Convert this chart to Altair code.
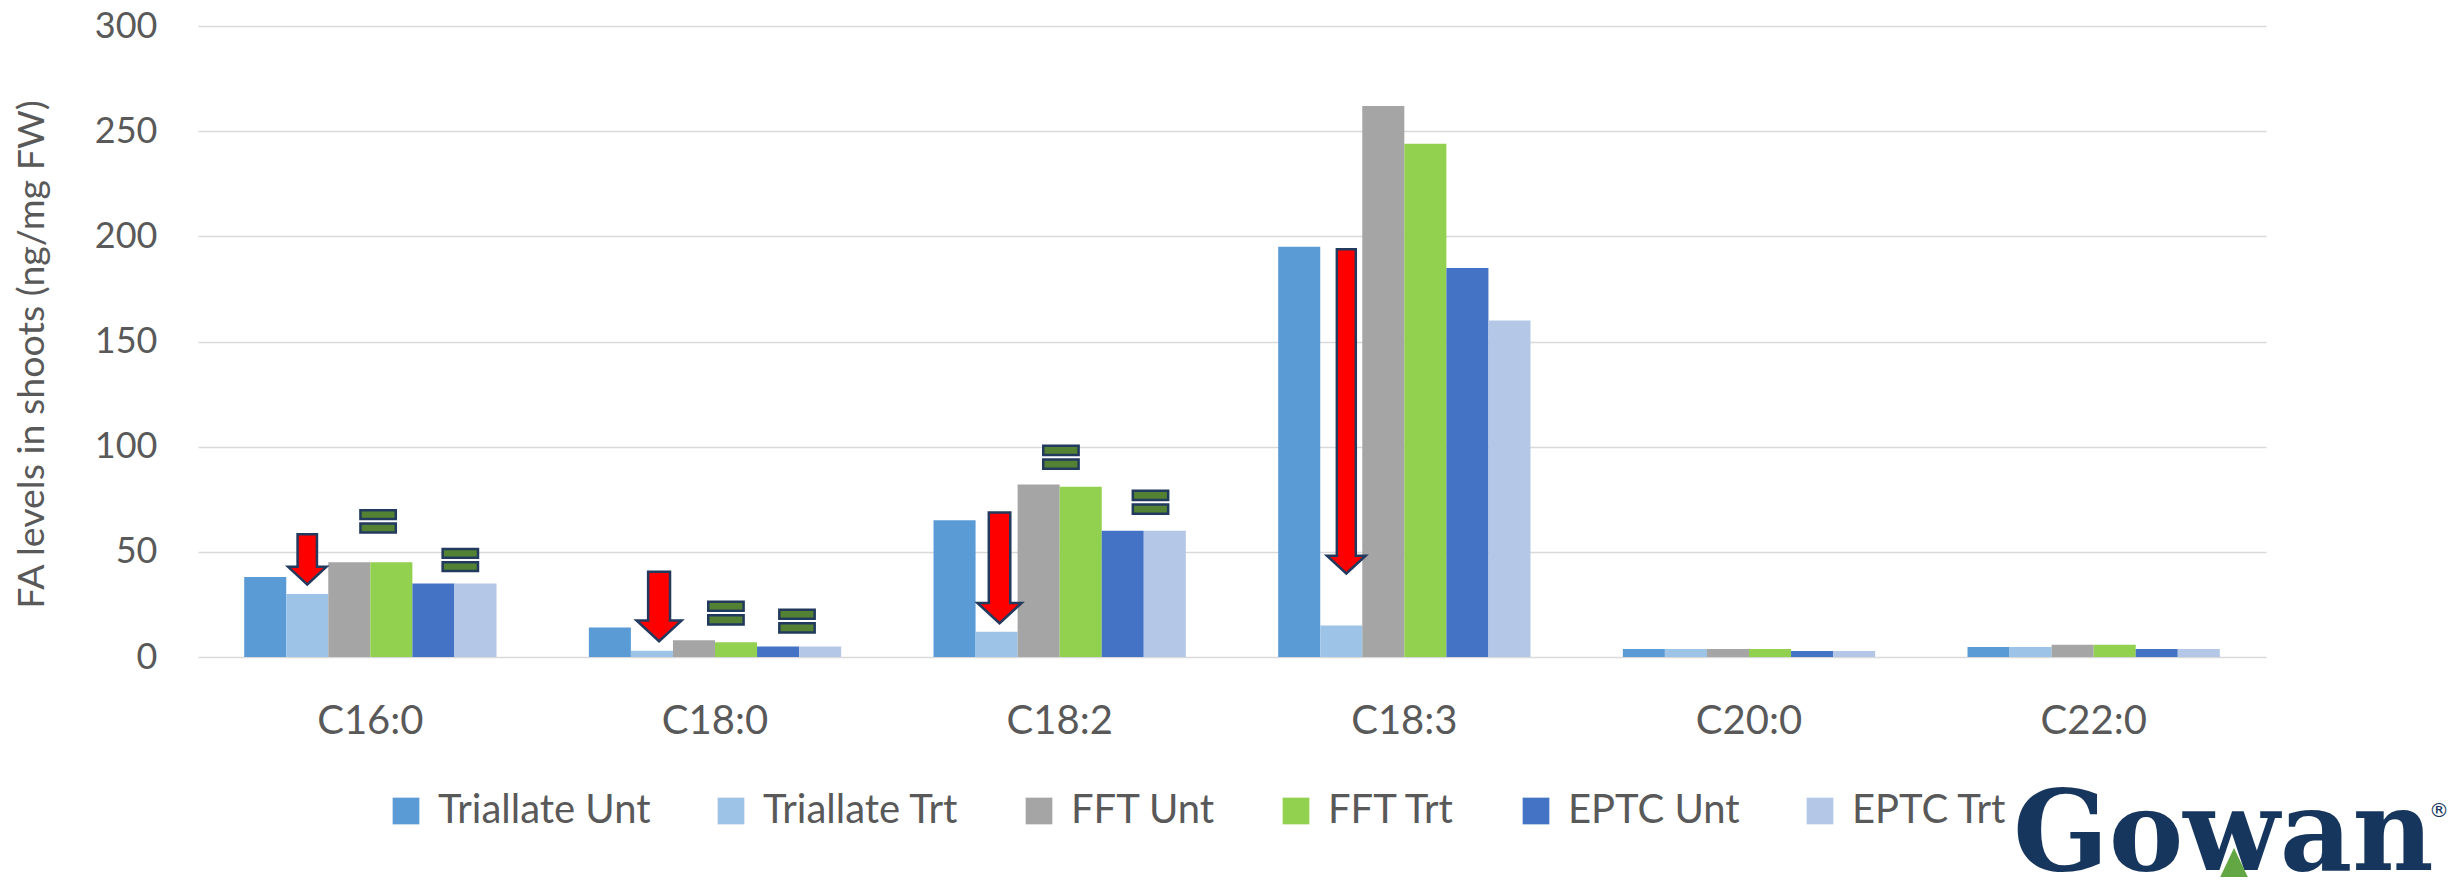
import altair as alt
import pandas as pd

# ---------------- data ----------------
categories = ["C16:0", "C18:0", "C18:2", "C18:3", "C20:0", "C22:0"]
series = ["Triallate Unt", "Triallate Trt", "FFT Unt", "FFT Trt", "EPTC Unt", "EPTC Trt"]

triallate_unt = [38, 14, 65, 195, 3.8, 4.8]
triallate_trt = [30, 3, 12, 15, 3.8, 4.8]
fft_unt = [45, 8, 82, 262, 3.8, 5.8]
fft_trt = [45, 7, 81, 244, 3.8, 5.8]
eptc_unt = [35, 5, 60, 185, 2.9, 3.8]
eptc_trt = [35, 5, 60, 160, 2.9, 3.8]

# decrease arrows (value units): top of shaft, start of head, tip
arrow_cats = ["C16:0", "C18:0", "C18:2", "C18:3"]
arrow_top = [59.0, 41.1, 69.3, 194.5]
arrow_neck = [42.9, 17.7, 26.0, 48.3]
arrow_tip = [33.6, 6.3, 14.9, 38.7]

# "no change" equals signs (value units): top and bottom
eq_cats = ["C16:0", "C16:0", "C18:0", "C18:0", "C18:2", "C18:2"]
eq_top = [70.4, 51.9, 26.9, 23.1, 101.0, 79.6]
eq_bottom = [58.6, 40.3, 14.9, 11.1, 88.9, 67.5]

y_ticks = [0, 50, 100, 150, 200, 250, 300]

# ---------------- style / layout ----------------
colors = ["#5B9BD5", "#9DC3E6", "#A5A5A5", "#92D050", "#4472C4", "#B4C7E7"]
TEXT = "#595959"
GRID = "#D9D9D9"
NAVY = "#223A5E"
RED = "#FF0000"
FONT = "Lato"
PAD_IN, PAD_OUT = 0.268, 0.134
BAR = (1 - PAD_IN) / len(series)     # one bar width in group units
W, H = 2068, 631
PX_PER_UNIT = H / 300.0
STROKE = 2.5

# annotation placement within group (in bar widths)
arrow_slot = [1.5, 1.67, 1.57, 1.62]
arrow_shaft = [0.52, 0.58, 0.57, 0.51]
arrow_head = [1.03, 1.19, 1.17, 1.04]
eq_slot = [3.185, 5.14, 3.26, 4.95, 3.03, 5.16]
eq_width = 0.9

# ---------------- tables ----------------
values = [triallate_unt, triallate_trt, fft_unt, fft_trt, eptc_unt, eptc_trt]
rows = []
for s, vals in zip(series, values):
    for c, v in zip(categories, vals):
        rows.append({"cat": c, "series": s, "value": v})
df = pd.DataFrame(rows)

bar_px = W / len(categories) * BAR
s_bar = STROKE / bar_px           # stroke in bar widths
s_val = STROKE / 2 / PX_PER_UNIT  # half stroke in value units


def gx(cat, slot):
    return categories.index(cat) + PAD_OUT + slot * BAR


shaft_rows, head_rows, cover_rows = [], [], []
for i, c in enumerate(arrow_cats):
    cx = gx(c, arrow_slot[i])
    sw = (arrow_shaft[i] - s_bar) * BAR / 2
    shaft_rows.append({"x": cx - sw, "x2": cx + sw,
                       "y": arrow_top[i] - s_val, "y2": arrow_neck[i]})
    head_px = (arrow_head[i] - 2 * s_bar) * bar_px
    head_rows.append({"x": cx, "y": (arrow_neck[i] + arrow_tip[i] + 1.4 * s_val) / 2,
                      "s": head_px ** 2})
    inner = sw - s_bar * BAR / 2 * 1.05
    cover_rows.append({"x": cx - inner, "x2": cx + inner,
                       "y": arrow_neck[i] + 2.2 * s_val, "y2": arrow_neck[i] - 2.2 * s_val})
shaft_df = pd.DataFrame(shaft_rows)
head_df = pd.DataFrame(head_rows)
cover_df = pd.DataFrame(cover_rows)

erows = []
for i, c in enumerate(eq_cats):
    cx = gx(c, eq_slot[i])
    half = (eq_width - s_bar) * BAR / 2
    Ht = eq_top[i] - eq_bottom[i]
    gap = 0.08 * Ht
    each = (Ht - gap) / 2
    for k in range(2):
        t = eq_top[i] - k * (each + gap)
        erows.append({"x": cx - half, "x2": cx + half,
                      "y": t - s_val, "y2": t - each + s_val})
eq_df = pd.DataFrame(erows)

# ---------------- chart ----------------
yscale = alt.Scale(domain=[0, 300], nice=False)
y_axis = alt.Axis(values=y_ticks, title="FA levels in shoots (ng/mg FW)",
                  labelFontSize=36, labelColor=TEXT, labelFont=FONT, labelPadding=41,
                  ticks=False, tickSize=0, domain=False,
                  grid=True, gridColor=GRID, gridWidth=1.7,
                  titleFontSize=37.5, titleFont=FONT, titleColor=TEXT,
                  titleFontWeight="normal", titleAngle=270,
                  titleBaseline="alphabetic", titleAlign="center",
                  titleX=-155, titleY=328)

bars = alt.Chart(df).mark_bar().encode(
    x=alt.X("cat:N", sort=categories,
            scale=alt.Scale(paddingInner=PAD_IN, paddingOuter=PAD_OUT),
            axis=alt.Axis(title=None, labelFontSize=40, labelColor=TEXT, labelFont=FONT,
                          labelAngle=0, labelPadding=76, labelBaseline="alphabetic",
                          ticks=False, tickSize=0, domain=False, grid=False)),
    xOffset=alt.XOffset("series:N", sort=series,
                        scale=alt.Scale(paddingInner=0, paddingOuter=0)),
    y=alt.Y("value:Q", scale=yscale, axis=y_axis),
    color=alt.Color("series:N", sort=series,
                    scale=alt.Scale(domain=series, range=colors),
                    legend=alt.Legend(title=None, orient="none", legendX=188, legendY=765,
                                      direction="horizontal", columns=6,
                                      symbolType="square", symbolSize=713,
                                      symbolStrokeWidth=0, labelFontSize=40,
                                      labelFont=FONT, labelColor=TEXT, labelOffset=12,
                                      columnPadding=60, padding=0, labelLimit=0)),
)

ax = alt.Scale(domain=[0, len(categories)], nice=False, zero=False)

shafts = alt.Chart(shaft_df).mark_rect(
    fill=RED, stroke=NAVY, strokeWidth=STROKE
).encode(
    x=alt.X("x:Q", scale=ax, axis=None), x2="x2:Q",
    y=alt.Y("y:Q", scale=yscale, axis=y_axis), y2="y2:Q",
)

heads = alt.Chart(head_df).mark_point(
    shape="M-1,-0.46L1,-0.46L0,0.46Z", filled=True, fill=RED, stroke=NAVY,
    strokeWidth=STROKE, opacity=1, strokeJoin="miter"
).encode(
    x=alt.X("x:Q", scale=ax, axis=None),
    y=alt.Y("y:Q", scale=yscale, axis=y_axis),
    size=alt.Size("s:Q", scale=None, legend=None),
)

covers = alt.Chart(cover_df).mark_rect(fill=RED, strokeWidth=0).encode(
    x=alt.X("x:Q", scale=ax, axis=None), x2="x2:Q",
    y=alt.Y("y:Q", scale=yscale, axis=y_axis), y2="y2:Q",
)

equals = alt.Chart(eq_df).mark_rect(
    fill="#548235", stroke=NAVY, strokeWidth=STROKE
).encode(
    x=alt.X("x:Q", scale=ax, axis=None), x2="x2:Q",
    y=alt.Y("y:Q", scale=yscale, axis=y_axis), y2="y2:Q",
)

# Gowan logo (decoration, bottom right)
logo_tri = alt.Chart(pd.DataFrame({"k": [0]})).mark_point(
    shape="M0,-1L0.95,1L-0.95,1Z", filled=True, size=1521,
    color="#62A744", opacity=1, strokeWidth=0
).encode(x=alt.value(2036), y=alt.value(841.5))

logo_txt = alt.Chart(pd.DataFrame({"t": ["Gowan"]})).mark_text(
    font="DejaVu Serif", fontWeight="bold", fontSize=112, color="#17365D",
    align="left", baseline="alphabetic"
).encode(text="t:N", x=alt.value(1815), y=alt.value(844))

logo_r = alt.Chart(pd.DataFrame({"t": ["®"]})).mark_text(
    font="DejaVu Sans", fontSize=20, color="#17365D",
    align="center", baseline="middle"
).encode(text="t:N", x=alt.value(2241), y=alt.value(785))

chart = alt.layer(bars, shafts, heads, covers, equals, logo_txt, logo_tri, logo_r).resolve_scale(
    x="independent"
).properties(
    width=W, height=H,
    background="white",
    autosize=alt.AutoSizeParams(type="none"),
    padding={"left": 190, "top": 18, "right": 182, "bottom": 220},
).configure_view(stroke="transparent", strokeWidth=0)

chart.save("out.html", embed_options={"renderer": "svg", "actions": False})
